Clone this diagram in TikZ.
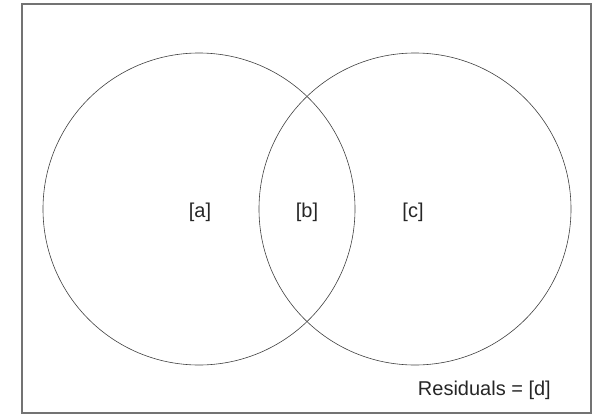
\documentclass[tikz,border=0pt]{standalone}
\usepackage{fontspec}
\setmainfont{Liberation Sans}
\begin{document}
\begin{tikzpicture}[x=1pt,y=-1pt,
  venn/.style={draw=black!75,line width=0.6pt},
  lbl/.style={font=\fontsize{20}{24}\selectfont,inner sep=0pt,text=black!85}]
\useasboundingbox (0,0) rectangle (594,415);
\draw[draw=black!55,line width=1.2pt] (22,4) rectangle (591,413);
\node[venn,circle,minimum size=312pt,inner sep=0pt] (A) at (199,209) {};
\node[venn,circle,minimum size=312pt,inner sep=0pt] (C) at (415,209) {};
\node[lbl] (a) at (200,212) {[a]};
\node[lbl] (b) at (307,212) {[b]};
\node[lbl] (c) at (413,212) {[c]};
\node[lbl,anchor=east] (d) at (551,390) {Residuals = [d]};
\end{tikzpicture}
\end{document}
